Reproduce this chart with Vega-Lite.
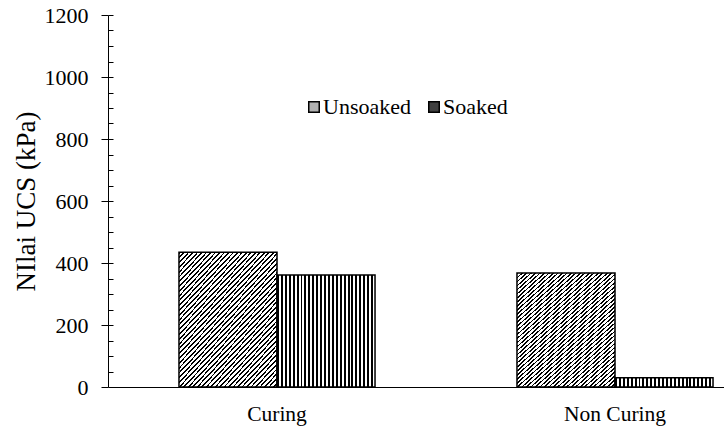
{
  "$schema": "https://vega.github.io/schema/vega-lite/v6.json",
  "width": 616,
  "height": 372,
  "autosize": "none",
  "padding": {"left": 108, "top": 15, "right": 0, "bottom": 45},
  "background": "white",
  "config": {
    "view": {"stroke": null},
    "font": "Liberation Serif, Times New Roman, DejaVu Serif, serif",
    "axis": {"labelFont": "Liberation Serif, Times New Roman, DejaVu Serif, serif", "titleFont": "Liberation Serif, Times New Roman, DejaVu Serif, serif", "labelColor": "black", "titleColor": "black", "domainColor": "black", "tickColor": "black", "grid": false},
    "legend": {"labelFont": "Liberation Serif, Times New Roman, DejaVu Serif, serif"}
  },
  "data": {"values": [
    {"cond": "Curing", "type": "Unsoaked", "ucs": 435},
    {"cond": "Curing", "type": "Soaked", "ucs": 361},
    {"cond": "Non Curing", "type": "Unsoaked", "ucs": 368},
    {"cond": "Non Curing", "type": "Soaked", "ucs": 30}
  ]},
  "encoding": {
    "x": {"field": "cond", "type": "nominal", "sort": ["Curing", "Non Curing"],
      "scale": {"range": [0, 676], "paddingInner": 0.42, "paddingOuter": 0.21},
      "axis": {"title": null, "ticks": false, "labelAngle": 0, "labelFontSize": 21.5, "labelPadding": 16, "domainWidth": 1}},
    "xOffset": {"field": "type", "type": "nominal", "sort": ["Unsoaked", "Soaked"], "scale": {"domain": ["Unsoaked", "Soaked"], "paddingInner": 0, "paddingOuter": 0}}
  },
  "layer": [
    {
      "mark": {"type": "bar"},
      "encoding": {
        "y": {"field": "ucs", "type": "quantitative", "scale": {"domain": [0, 1200], "nice": false},
          "axis": {"title": "NIlai UCS (kPa)", "format": "d", "values": [0, 200, 400, 600, 800, 1000, 1200], "tickSize": 7, "labelFontSize": 22, "titleFontSize": 27, "titleFontWeight": "normal", "labelPadding": 13, "titlePadding": 4, "domainWidth": 1, "orient": "left"}},
        "color": {"field": "type", "type": "nominal", "sort": ["Unsoaked", "Soaked"],
          "scale": {"domain": ["Unsoaked", "Soaked"], "range": ["#b0b0b0", "#404040"]},
          "legend": {"orient": "none", "legendX": 195, "legendY": 81, "direction": "horizontal", "title": null, "padding": 0, "symbolType": "square", "symbolSize": 110, "symbolStrokeColor": "black", "symbolStrokeWidth": 1.5, "labelFont": "Liberation Serif, Times New Roman, DejaVu Serif, serif", "labelFontSize": 22, "labelColor": "black", "columnPadding": 12, "labelOffset": -2}}
      }
    },
    {
      "transform": [{"filter": "datum.type === 'Unsoaked'"}],
      "mark": {"type": "bar", "stroke": "black", "strokeWidth": 1.5,
        "fill": {"gradient": "linear", "x1": 0, "y1": 0, "x2": 0.862, "y2": 1.108, "stops": [
          {"offset":0,"color":"#000"},{"offset":0.008,"color":"#000"},{"offset":0.008,"color":"#fff"},{"offset":0.02,"color":"#fff"},
          {"offset":0.02,"color":"#000"},{"offset":0.028,"color":"#000"},{"offset":0.028,"color":"#fff"},{"offset":0.04,"color":"#fff"},
          {"offset":0.04,"color":"#000"},{"offset":0.048,"color":"#000"},{"offset":0.048,"color":"#fff"},{"offset":0.06,"color":"#fff"},
          {"offset":0.06,"color":"#000"},{"offset":0.068,"color":"#000"},{"offset":0.068,"color":"#fff"},{"offset":0.08,"color":"#fff"},
          {"offset":0.08,"color":"#000"},{"offset":0.088,"color":"#000"},{"offset":0.088,"color":"#fff"},{"offset":0.1,"color":"#fff"},
          {"offset":0.1,"color":"#000"},{"offset":0.108,"color":"#000"},{"offset":0.108,"color":"#fff"},{"offset":0.12,"color":"#fff"},
          {"offset":0.12,"color":"#000"},{"offset":0.128,"color":"#000"},{"offset":0.128,"color":"#fff"},{"offset":0.14,"color":"#fff"},
          {"offset":0.14,"color":"#000"},{"offset":0.148,"color":"#000"},{"offset":0.148,"color":"#fff"},{"offset":0.16,"color":"#fff"},
          {"offset":0.16,"color":"#000"},{"offset":0.168,"color":"#000"},{"offset":0.168,"color":"#fff"},{"offset":0.18,"color":"#fff"},
          {"offset":0.18,"color":"#000"},{"offset":0.188,"color":"#000"},{"offset":0.188,"color":"#fff"},{"offset":0.2,"color":"#fff"},
          {"offset":0.2,"color":"#000"},{"offset":0.208,"color":"#000"},{"offset":0.208,"color":"#fff"},{"offset":0.22,"color":"#fff"},
          {"offset":0.22,"color":"#000"},{"offset":0.228,"color":"#000"},{"offset":0.228,"color":"#fff"},{"offset":0.24,"color":"#fff"},
          {"offset":0.24,"color":"#000"},{"offset":0.248,"color":"#000"},{"offset":0.248,"color":"#fff"},{"offset":0.26,"color":"#fff"},
          {"offset":0.26,"color":"#000"},{"offset":0.268,"color":"#000"},{"offset":0.268,"color":"#fff"},{"offset":0.28,"color":"#fff"},
          {"offset":0.28,"color":"#000"},{"offset":0.288,"color":"#000"},{"offset":0.288,"color":"#fff"},{"offset":0.3,"color":"#fff"},
          {"offset":0.3,"color":"#000"},{"offset":0.308,"color":"#000"},{"offset":0.308,"color":"#fff"},{"offset":0.32,"color":"#fff"},
          {"offset":0.32,"color":"#000"},{"offset":0.328,"color":"#000"},{"offset":0.328,"color":"#fff"},{"offset":0.34,"color":"#fff"},
          {"offset":0.34,"color":"#000"},{"offset":0.348,"color":"#000"},{"offset":0.348,"color":"#fff"},{"offset":0.36,"color":"#fff"},
          {"offset":0.36,"color":"#000"},{"offset":0.368,"color":"#000"},{"offset":0.368,"color":"#fff"},{"offset":0.38,"color":"#fff"},
          {"offset":0.38,"color":"#000"},{"offset":0.388,"color":"#000"},{"offset":0.388,"color":"#fff"},{"offset":0.4,"color":"#fff"},
          {"offset":0.4,"color":"#000"},{"offset":0.408,"color":"#000"},{"offset":0.408,"color":"#fff"},{"offset":0.42,"color":"#fff"},
          {"offset":0.42,"color":"#000"},{"offset":0.428,"color":"#000"},{"offset":0.428,"color":"#fff"},{"offset":0.44,"color":"#fff"},
          {"offset":0.44,"color":"#000"},{"offset":0.448,"color":"#000"},{"offset":0.448,"color":"#fff"},{"offset":0.46,"color":"#fff"},
          {"offset":0.46,"color":"#000"},{"offset":0.468,"color":"#000"},{"offset":0.468,"color":"#fff"},{"offset":0.48,"color":"#fff"},
          {"offset":0.48,"color":"#000"},{"offset":0.488,"color":"#000"},{"offset":0.488,"color":"#fff"},{"offset":0.5,"color":"#fff"},
          {"offset":0.5,"color":"#000"},{"offset":0.508,"color":"#000"},{"offset":0.508,"color":"#fff"},{"offset":0.52,"color":"#fff"},
          {"offset":0.52,"color":"#000"},{"offset":0.528,"color":"#000"},{"offset":0.528,"color":"#fff"},{"offset":0.54,"color":"#fff"},
          {"offset":0.54,"color":"#000"},{"offset":0.548,"color":"#000"},{"offset":0.548,"color":"#fff"},{"offset":0.56,"color":"#fff"},
          {"offset":0.56,"color":"#000"},{"offset":0.568,"color":"#000"},{"offset":0.568,"color":"#fff"},{"offset":0.58,"color":"#fff"},
          {"offset":0.58,"color":"#000"},{"offset":0.588,"color":"#000"},{"offset":0.588,"color":"#fff"},{"offset":0.6,"color":"#fff"},
          {"offset":0.6,"color":"#000"},{"offset":0.608,"color":"#000"},{"offset":0.608,"color":"#fff"},{"offset":0.62,"color":"#fff"},
          {"offset":0.62,"color":"#000"},{"offset":0.628,"color":"#000"},{"offset":0.628,"color":"#fff"},{"offset":0.64,"color":"#fff"},
          {"offset":0.64,"color":"#000"},{"offset":0.648,"color":"#000"},{"offset":0.648,"color":"#fff"},{"offset":0.66,"color":"#fff"},
          {"offset":0.66,"color":"#000"},{"offset":0.668,"color":"#000"},{"offset":0.668,"color":"#fff"},{"offset":0.68,"color":"#fff"},
          {"offset":0.68,"color":"#000"},{"offset":0.688,"color":"#000"},{"offset":0.688,"color":"#fff"},{"offset":0.7,"color":"#fff"},
          {"offset":0.7,"color":"#000"},{"offset":0.708,"color":"#000"},{"offset":0.708,"color":"#fff"},{"offset":0.72,"color":"#fff"},
          {"offset":0.72,"color":"#000"},{"offset":0.728,"color":"#000"},{"offset":0.728,"color":"#fff"},{"offset":0.74,"color":"#fff"},
          {"offset":0.74,"color":"#000"},{"offset":0.748,"color":"#000"},{"offset":0.748,"color":"#fff"},{"offset":0.76,"color":"#fff"},
          {"offset":0.76,"color":"#000"},{"offset":0.768,"color":"#000"},{"offset":0.768,"color":"#fff"},{"offset":0.78,"color":"#fff"},
          {"offset":0.78,"color":"#000"},{"offset":0.788,"color":"#000"},{"offset":0.788,"color":"#fff"},{"offset":0.8,"color":"#fff"},
          {"offset":0.8,"color":"#000"},{"offset":0.808,"color":"#000"},{"offset":0.808,"color":"#fff"},{"offset":0.82,"color":"#fff"},
          {"offset":0.82,"color":"#000"},{"offset":0.828,"color":"#000"},{"offset":0.828,"color":"#fff"},{"offset":0.84,"color":"#fff"},
          {"offset":0.84,"color":"#000"},{"offset":0.848,"color":"#000"},{"offset":0.848,"color":"#fff"},{"offset":0.86,"color":"#fff"},
          {"offset":0.86,"color":"#000"},{"offset":0.868,"color":"#000"},{"offset":0.868,"color":"#fff"},{"offset":0.88,"color":"#fff"},
          {"offset":0.88,"color":"#000"},{"offset":0.888,"color":"#000"},{"offset":0.888,"color":"#fff"},{"offset":0.9,"color":"#fff"},
          {"offset":0.9,"color":"#000"},{"offset":0.908,"color":"#000"},{"offset":0.908,"color":"#fff"},{"offset":0.92,"color":"#fff"},
          {"offset":0.92,"color":"#000"},{"offset":0.928,"color":"#000"},{"offset":0.928,"color":"#fff"},{"offset":0.94,"color":"#fff"},
          {"offset":0.94,"color":"#000"},{"offset":0.948,"color":"#000"},{"offset":0.948,"color":"#fff"},{"offset":0.96,"color":"#fff"},
          {"offset":0.96,"color":"#000"},{"offset":0.968,"color":"#000"},{"offset":0.968,"color":"#fff"},{"offset":0.98,"color":"#fff"},
          {"offset":0.98,"color":"#000"},{"offset":0.988,"color":"#000"},{"offset":0.988,"color":"#fff"},{"offset":1,"color":"#fff"}
        ]}},
      "encoding": {
        "y": {"field": "ucs", "type": "quantitative",
          "axis": {"orient": "right", "offset": -616, "title": null, "values": [50,100,150,200,250,300,350,400,450,500,550,600,650,700,750,800,850,900,950,1000,1050,1100,1150,1200], "tickSize": 5, "labels": false, "domain": false}}
      }
    },
    {
      "transform": [{"filter": "datum.type === 'Soaked'"}],
      "mark": {"type": "bar", "stroke": "black", "strokeWidth": 1.5,
        "fill": {"gradient": "linear", "x1": 0, "y1": 0, "x2": 1, "y2": 0, "stops": [
          {"offset":0,"color":"#000"},{"offset":0.02,"color":"#000"},{"offset":0.02,"color":"#fff"},{"offset":0.04,"color":"#fff"},
          {"offset":0.04,"color":"#000"},{"offset":0.06,"color":"#000"},{"offset":0.06,"color":"#fff"},{"offset":0.08,"color":"#fff"},
          {"offset":0.08,"color":"#000"},{"offset":0.1,"color":"#000"},{"offset":0.1,"color":"#fff"},{"offset":0.12,"color":"#fff"},
          {"offset":0.12,"color":"#000"},{"offset":0.14,"color":"#000"},{"offset":0.14,"color":"#fff"},{"offset":0.16,"color":"#fff"},
          {"offset":0.16,"color":"#000"},{"offset":0.18,"color":"#000"},{"offset":0.18,"color":"#fff"},{"offset":0.2,"color":"#fff"},
          {"offset":0.2,"color":"#000"},{"offset":0.22,"color":"#000"},{"offset":0.22,"color":"#fff"},{"offset":0.24,"color":"#fff"},
          {"offset":0.24,"color":"#000"},{"offset":0.26,"color":"#000"},{"offset":0.26,"color":"#fff"},{"offset":0.28,"color":"#fff"},
          {"offset":0.28,"color":"#000"},{"offset":0.3,"color":"#000"},{"offset":0.3,"color":"#fff"},{"offset":0.32,"color":"#fff"},
          {"offset":0.32,"color":"#000"},{"offset":0.34,"color":"#000"},{"offset":0.34,"color":"#fff"},{"offset":0.36,"color":"#fff"},
          {"offset":0.36,"color":"#000"},{"offset":0.38,"color":"#000"},{"offset":0.38,"color":"#fff"},{"offset":0.4,"color":"#fff"},
          {"offset":0.4,"color":"#000"},{"offset":0.42,"color":"#000"},{"offset":0.42,"color":"#fff"},{"offset":0.44,"color":"#fff"},
          {"offset":0.44,"color":"#000"},{"offset":0.46,"color":"#000"},{"offset":0.46,"color":"#fff"},{"offset":0.48,"color":"#fff"},
          {"offset":0.48,"color":"#000"},{"offset":0.5,"color":"#000"},{"offset":0.5,"color":"#fff"},{"offset":0.52,"color":"#fff"},
          {"offset":0.52,"color":"#000"},{"offset":0.54,"color":"#000"},{"offset":0.54,"color":"#fff"},{"offset":0.56,"color":"#fff"},
          {"offset":0.56,"color":"#000"},{"offset":0.58,"color":"#000"},{"offset":0.58,"color":"#fff"},{"offset":0.6,"color":"#fff"},
          {"offset":0.6,"color":"#000"},{"offset":0.62,"color":"#000"},{"offset":0.62,"color":"#fff"},{"offset":0.64,"color":"#fff"},
          {"offset":0.64,"color":"#000"},{"offset":0.66,"color":"#000"},{"offset":0.66,"color":"#fff"},{"offset":0.68,"color":"#fff"},
          {"offset":0.68,"color":"#000"},{"offset":0.7,"color":"#000"},{"offset":0.7,"color":"#fff"},{"offset":0.72,"color":"#fff"},
          {"offset":0.72,"color":"#000"},{"offset":0.74,"color":"#000"},{"offset":0.74,"color":"#fff"},{"offset":0.76,"color":"#fff"},
          {"offset":0.76,"color":"#000"},{"offset":0.78,"color":"#000"},{"offset":0.78,"color":"#fff"},{"offset":0.8,"color":"#fff"},
          {"offset":0.8,"color":"#000"},{"offset":0.82,"color":"#000"},{"offset":0.82,"color":"#fff"},{"offset":0.84,"color":"#fff"},
          {"offset":0.84,"color":"#000"},{"offset":0.86,"color":"#000"},{"offset":0.86,"color":"#fff"},{"offset":0.88,"color":"#fff"},
          {"offset":0.88,"color":"#000"},{"offset":0.9,"color":"#000"},{"offset":0.9,"color":"#fff"},{"offset":0.92,"color":"#fff"},
          {"offset":0.92,"color":"#000"},{"offset":0.94,"color":"#000"},{"offset":0.94,"color":"#fff"},{"offset":0.96,"color":"#fff"},
          {"offset":0.96,"color":"#000"},{"offset":0.98,"color":"#000"},{"offset":0.98,"color":"#fff"},{"offset":1,"color":"#fff"}
        ]}},
      "encoding": {
        "y": {"field": "ucs", "type": "quantitative", "axis": null}
      }
    }
  ],
  "resolve": {"axis": {"y": "independent"}}
}
